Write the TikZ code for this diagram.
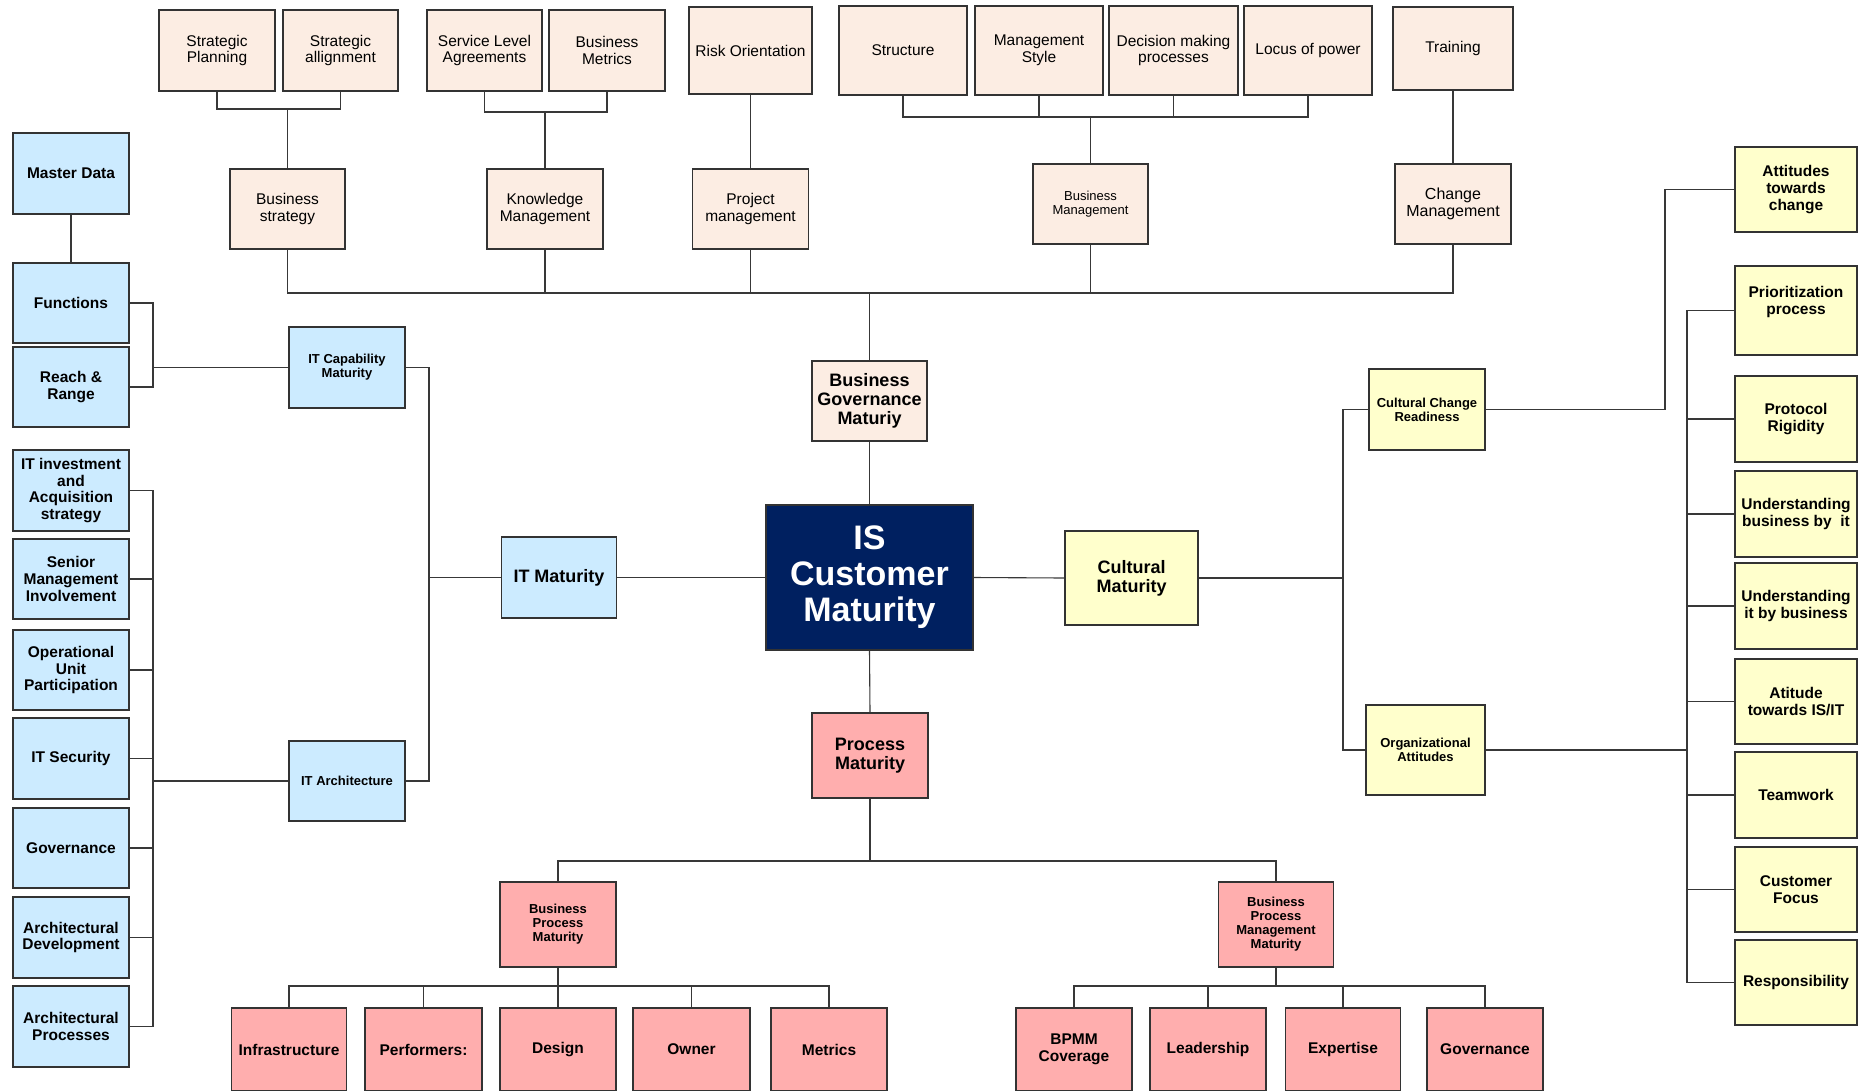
\documentclass[tikz,border=0pt]{standalone}
\usepackage{fontspec}
\setmainfont{Liberation Sans}
\definecolor{peachc}{HTML}{FCEDE3}
\definecolor{bluec}{HTML}{CCEBFF}
\definecolor{yellc}{HTML}{FFFFCC}
\definecolor{pinkc}{HTML}{FFAEAE}
\definecolor{navyc}{HTML}{002060}
\begin{document}
\begin{tikzpicture}[x=1pt,y=-1pt,
  box/.style={draw=black!80, line width=1.1pt, inner sep=1pt, align=center,
    font=\fontsize{15.5}{16.7}\selectfont},
  wh/.style 2 args={minimum width=#1pt, minimum height=#2pt},
  reg/.style={font=\fontsize{15.5}{16.7}\selectfont},
  bld/.style={font=\bfseries\fontsize{15.5}{16.7}\selectfont},
  sml/.style={font=\bfseries\fontsize{13}{14}\selectfont},
  big/.style={font=\bfseries\fontsize{18}{19}\selectfont},
  peach/.style={box, fill=peachc},
  blue/.style={box, fill=bluec, bld},
  yell/.style={box, fill=yellc, bld},
  pink/.style={box, fill=pinkc, bld},
  wire/.style={draw=black!78, line width=1.1pt}
]
\path[use as bounding box] (0,0) rectangle (1863,1090);
\clip (0,0) rectangle (1863,1090);

% ---------- business governance branch ----------
\node[peach, wh={116}{81}] (sp)  at (217,50.5)    {Strategic\\Planning};
\node[peach, wh={115}{81}] (sa)  at (340.5,50.5)  {Strategic\\allignment};
\node[peach, wh={115}{81}] (sla) at (484.5,50.5)  {Service Level\\Agreements};
\node[peach, wh={116}{81}] (bm)  at (607,50.5)    {Business\\Metrics};
\node[peach, wh={123}{87}] (ro)  at (750.5,50.5)  {Risk Orientation};
\node[peach, wh={128}{89}] (st)  at (903,50.5)    {Structure};
\node[peach, wh={128}{89}] (ms)  at (1039,50.5)   {Management\\Style};
\node[peach, wh={129}{89}] (dm)  at (1173.5,50.5) {Decision making\\processes};
\node[peach, wh={128}{89}] (lp)  at (1308,50.5)   {Locus of power};
\node[peach, wh={120}{83}] (tr)  at (1453,48.5)   {Training};

\node[peach, wh={115}{80}] (bs)  at (287.5,209)   {Business\\strategy};
\node[peach, wh={116}{80}] (km)  at (545,209)     {Knowledge\\Management};
\node[peach, wh={116}{80}] (pjm) at (750.5,209)   {Project\\management};
\node[peach, wh={115}{80}, font=\fontsize{13}{14.3}\selectfont] (bmg) at (1090.5,204) {Business\\Management};
\node[peach, wh={116}{80}, font=\fontsize{16}{16.7}\selectfont] (chm) at (1453,204) {Change\\Management};

\node[peach, big, wh={115}{80}] (bgm) at (869.5,401) {Business\\Governance\\Maturiy};

% ---------- centre ----------
\node[box, fill=navyc, text=white, wh={207}{145},
  font=\bfseries\fontsize{34}{36}\selectfont] (is) at (869.5,577.5) {IS\\Customer\\Maturity};

\node[pink, big, wh={116}{85}] (pm)  at (870,755.5)   {Process\\Maturity};
\node[blue, big, wh={115}{81}] (itm) at (559,577.5)   {IT Maturity};
\node[yell, big, wh={133}{94}] (cm)  at (1131.5,578)  {Cultural\\Maturity};

% ---------- IT branch ----------
\node[blue, wh={116}{81}] (md)  at (71,173.5)  {Master Data};
\node[blue, wh={116}{80}] (fn)  at (71,303)    {Functions};
\node[blue, wh={116}{80}] (rr)  at (71,387)    {Reach \&\\Range};
\node[blue, wh={116}{81}] (iti) at (71,490.5)  {IT investment\\and\\Acquisition\\strategy};
\node[blue, wh={116}{80}] (smi) at (71,579)    {Senior\\Management\\Involvement};
\node[blue, wh={116}{80}] (oup) at (71,670)    {Operational\\Unit\\Participation};
\node[blue, wh={116}{81}] (its) at (71,758.5)  {IT Security};
\node[blue, wh={116}{80}] (gov) at (71,848)    {Governance};
\node[blue, wh={116}{81}] (ad)  at (71,937.5)  {Architectural\\Development};
\node[blue, wh={116}{81}] (ap)  at (71,1026.5) {Architectural\\Processes};
\node[blue, sml, wh={116}{81}] (itcm) at (347,367.5) {IT Capability\\Maturity};
\node[blue, sml, wh={116}{80}] (ita)  at (347,781)   {IT Architecture};

% ---------- cultural branch ----------
\node[yell, sml, wh={116}{81}] (ccr) at (1427,409.5) {Cultural Change\\Readiness};
\node[yell, sml, wh={119}{90}] (oa)  at (1425.5,750) {Organizational\\Attitudes};
\node[yell, wh={122}{85}] (atc) at (1796,189.5) {Attitudes\\towards\\change};
\node[yell, wh={122}{89}] (pp)  at (1796,310.5) {Prioritization\\process\\\vphantom{p}};
\node[yell, wh={122}{86}] (prr) at (1796,419)   {Protocol\\Rigidity};
\node[yell, wh={122}{86}] (ubi) at (1796,514)   {Understanding\\business by~~it};
\node[yell, wh={122}{86}] (uib) at (1796,606)   {Understanding\\it by business};
\node[yell, wh={122}{85}] (ais) at (1796,701.5) {Atitude\\towards IS/IT};
\node[yell, wh={122}{86}] (tw)  at (1796,795)   {Teamwork};
\node[yell, wh={122}{85}] (cf)  at (1796,889.5) {Customer\\Focus};
\node[yell, wh={122}{85}] (rsp) at (1796,982.5) {Responsibility};

% ---------- process branch ----------
\node[pink, sml, wh={116}{85}]   (bpm)  at (558,924.5)  {Business\\Process\\Maturity};
\node[pink, sml, wh={115.5}{85}] (bpmm) at (1276,924.5) {Business\\Process\\Management\\Maturity};
\node[pink, wh={115.5}{83}] (infra) at (289,1049.5)   {Infrastructure};
\node[pink, wh={117}{83}]   (perf)  at (423.5,1049.5) {Performers:};
\node[pink, wh={116}{83}]   (des)   at (558,1049.5)   {Design};
\node[pink, wh={117}{83}]   (own)   at (691.5,1049.5) {Owner};
\node[pink, wh={116}{83}]   (met)   at (829,1049.5)   {Metrics};
\node[pink, wh={116}{83}]   (bpc)   at (1074,1049.5)  {BPMM\\Coverage};
\node[pink, wh={116}{83}]   (lead)  at (1208,1049.5)  {Leadership};
\node[pink, wh={115.5}{83}] (expt)  at (1343,1049.5)  {Expertise};
\node[pink, wh={116}{83}]   (gv)    at (1485,1049.5)  {Governance};

% ---------- connectors: governance ----------
\coordinate (j1) at (287.5,109);
\draw[wire] (sp.south) |- (j1) -| (sa.south);
\draw[wire] (j1) -- (bs.north);
\coordinate (j2) at (545,112);
\draw[wire] (sla.south) |- (j2) -| (bm.south);
\draw[wire] (j2) -- (km.north);
\draw[wire] (ro.south) -- (pjm.north);
\coordinate (j3) at (1090.5,117);
\draw[wire] (st.south) |- (j3) -| (lp.south);
\draw[wire] (ms.south) -- (ms.south |- j3);
\draw[wire] (dm.south) -- (dm.south |- j3);
\draw[wire] (j3) -- (bmg.north);
\draw[wire] (tr.south) -- (chm.north);
\coordinate (j4) at (869.5,293);
\draw[wire] (bs.south) |- (j4) -| (chm.south);
\draw[wire] (km.south) -- (km.south |- j4);
\draw[wire] (pjm.south) -- (pjm.south |- j4);
\draw[wire] (bmg.south) -- (bmg.south |- j4);
\draw[wire] (j4) -- (bgm.north);

% ---------- connectors: centre ----------
\draw[wire] (bgm.south) -- (is.north);
\draw[wire] (is.south) -- (pm.north);
\draw[wire] (itm.east) -- (is.west);
\draw[wire] (is.east) -- (cm.west);

% ---------- connectors: IT ----------
\coordinate (j5) at (429,577.5);
\draw[wire] (itcm.east) -| (j5) |- (ita.east);
\draw[wire] (j5) -- (itm.west);
\coordinate (j6) at (153,367.5);
\draw[wire] (fn.east) -| (j6) |- (rr.east);
\draw[wire] (j6) -- (itcm.west);
\draw[wire] (md.south) -- (fn.north);
\coordinate (j7) at (153,781);
\draw[wire] (iti.east) -| (j7) |- (ap.east);
\foreach \n in {smi,oup,its,gov,ad} \draw[wire] (\n.east) -- (\n.east -| j7);
\draw[wire] (j7) -- (ita.west);

% ---------- connectors: cultural ----------
\coordinate (j8) at (1343,578);
\draw[wire] (ccr.west) -| (j8) |- (oa.west);
\draw[wire] (cm.east) -- (j8);
\coordinate (j9) at (1665,409.5);
\draw[wire] (ccr.east) -- (j9) |- (atc.west);
\coordinate (j10) at (1687,750);
\draw[wire] (pp.west) -| (j10) |- (rsp.west);
\foreach \n in {prr,ubi,uib,ais,tw,cf} \draw[wire] (\n.west) -- (\n.west -| j10);
\draw[wire] (oa.east) -- (j10);

% ---------- connectors: process ----------
\coordinate (j11) at (870,861);
\draw[wire] (bpm.north) |- (j11) -| (bpmm.north);
\draw[wire] (pm.south) -- (j11);
\coordinate (j12) at (558,986);
\draw[wire] (infra.north) |- (j12) -| (met.north);
\foreach \n in {perf,own} \draw[wire] (\n.north) -- (\n.north |- j12);
\draw[wire] (bpm.south) -- (des.north);
\coordinate (j13) at (1276,986);
\draw[wire] (bpc.north) |- (j13) -| (gv.north);
\foreach \n in {lead,expt} \draw[wire] (\n.north) -- (\n.north |- j13);
\draw[wire] (bpmm.south) -- (j13);
\end{tikzpicture}
\end{document}
